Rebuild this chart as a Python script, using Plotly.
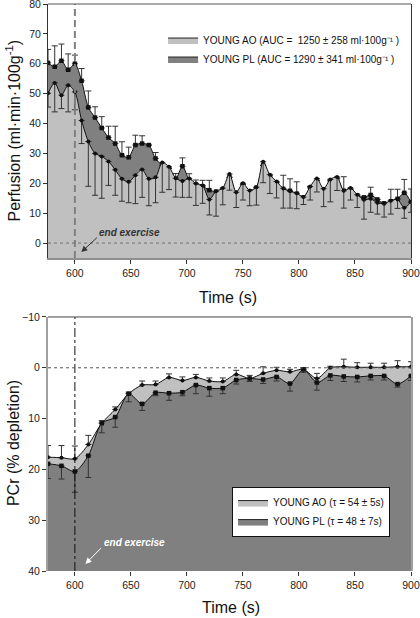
import plotly.graph_objects as go

# ---------------- data: perfusion (top panel) ----------------
time_perf = [576, 582, 588, 594, 600, 606, 612, 618, 624, 630, 636, 642, 648, 654, 660,
             666, 672, 678, 684, 690, 696, 702, 708, 714, 720, 726, 732, 738, 744, 750,
             756, 762, 768, 774, 780, 786, 792, 798, 804, 810, 816, 822, 828, 834, 840,
             846, 852, 858, 864, 870, 876, 882, 888, 894, 900]
perf_ao = [50.1, 53.6, 49.5, 52.8, 50.6, 41.0, 34.0, 30.0, 29.0, 27.3, 24.5, 21.5, 20.5, 22.7, 24.6,
           21.5, 22.0, 27.0, 25.5, 21.7, 20.8, 21.6, 19.9, 19.3, 14.6, 17.3, 18.4, 23.1, 17.0, 20.0,
           17.6, 18.7, 27.2, 22.9, 20.6, 18.3, 17.3, 16.7, 15.4, 18.9, 21.6, 18.2, 21.3, 22.1, 17.5,
           18.4, 16.2, 14.5, 14.8, 13.5, 13.2, 14.2, 14.6, 11.8, 13.8]
perf_ao_err = [4.6, 9.7, 4.5, 8.9, 6.0, 7.7, 15.0, 14.0, 14.0, 8.0, 8.5, 7.5, 7.0, 9.5, 9.3,
               9.0, 8.5, 10.0, 7.6, 6.3, 5.5, 6.3, 7.3, 6.0, 5.2, 8.3, 5.6, 5.4, 5.1, 5.6,
               5.1, 6.0, 7.0, 6.3, 5.5, 6.6, 5.6, 5.2, 2.5, 4.5, 4.5, 6.0, 7.5, 4.5, 5.8,
               4.0, 4.3, 6.5, 4.5, 3.8, 4.5, 4.5, 3.0, 3.5, 3.5]
perf_pl = [60.3, 59.0, 61.0, 58.0, 60.0, 54.3, 45.4, 42.0, 38.5, 35.3, 33.3, 29.4, 28.7, 32.8, 33.3,
           32.8, 28.3, 26.0, 25.0, 21.5, 25.7, 21.2, 19.6, 19.0, 17.7, 17.2, 18.0, 22.0, 16.8, 19.6,
           17.3, 18.5, 26.0, 22.5, 20.2, 18.1, 17.5, 16.5, 15.3, 18.5, 21.0, 18.0, 20.8, 21.6, 17.5,
           18.0, 16.0, 15.3, 16.1, 14.6, 13.3, 14.0, 14.8, 16.8, 13.6]
perf_pl_err = [4.5, 7.0, 5.6, 5.3, 2.9, 4.1, 5.5, 3.6, 3.8, 3.8, 5.8, 4.5, 3.4, 3.3, 2.6,
               0.0, 2.0, 0.0, 0.0, 1.8, 2.8, 2.0, 1.5, 2.0, 3.3, 0.0, 0.0, 0.0, 0.0, 0.0,
               0.0, 0.0, 0.0, 0.0, 0.0, 4.6, 4.0, 4.0, 0.0, 0.5, 0.0, 0.0, 0.0, 0.0, 4.7,
               0.0, 0.0, 0.0, 2.6, 0.0, 0.0, 4.0, 3.2, 4.5, 4.5]

# ---------------- data: PCr depletion (bottom panel) ----------------
time_pcr = [576, 588, 600, 612, 624, 636, 648, 660, 672, 684, 696, 708, 720, 732,
            744, 756, 768, 780, 792, 804, 816, 828, 840, 852, 864, 876, 888, 900]
pcr_ao = [17.6, 17.7, 17.9, 15.1, 10.9, 8.2, 5.1, 3.4, 3.3, 1.9, 2.5, 1.9, 2.6, 2.7,
          1.3, 2.1, 1.1, 0.5, 0.8, 0.3, 2.1, 0.0, -0.2, -0.1, -0.1, -0.1, -0.2, -0.2]
pcr_ao_err = [2.3, 2.4, 2.5, 1.8, 0.5, 0.5, 0.3, 0.8, 0.7, 0.7, 0.7, 0.6, 0.6, 0.7,
              0.8, 0.6, 1.3, 0.6, 0.5, 0.3, 1.0, 0.3, 1.5, 0.9, 0.8, 0.8, 1.2, 1.0]
pcr_pl = [18.9, 19.3, 20.4, 17.3, 10.9, 9.7, 5.1, 7.1, 4.9, 5.0, 4.8, 3.4, 4.0, 4.0,
          2.4, 2.1, 2.3, 1.8, 3.1, 0.3, 2.9, 1.5, 1.7, 1.8, 1.6, 1.6, 3.2, 1.6]
pcr_pl_err = [2.9, 2.6, 4.1, 4.3, 1.9, 2.0, 1.6, 1.3, 0.6, 1.4, 0.7, 1.7, 1.6, 1.1,
              0.8, 0.6, 0.8, 0.8, 1.5, 0.6, 1.5, 1.0, 1.0, 1.0, 0.8, 0.8, 0.6, 0.9]

x_ticks = [600, 650, 700, 750, 800, 850, 900]
perf_ticks = [0, 10, 20, 30, 40, 50, 60, 70, 80]
pcr_ticks = [-10, 0, 10, 20, 30, 40]

legend_perf = ["YOUNG AO (AUC =  1250 ± 258 ml·100g⁻¹ )",
               "YOUNG PL (AUC = 1290 ± 341 ml·100g⁻¹ )"]
legend_pcr = ["YOUNG AO (τ = 54 ± 5s)", "YOUNG PL (τ = 48 ± 7s)"]

LIGHT = "#c0c0c0"
DARK = "#808080"
FONT = "Liberation Sans, Arial, sans-serif"

fig = go.Figure()


def baseline(xs, level, xa, ya):
    return go.Scatter(x=[xs[0], xs[-1]], y=[level, level], mode="lines",
                      line=dict(width=0), hoverinfo="skip", showlegend=False,
                      xaxis=xa, yaxis=ya)


def series(xs, ys, plus, minus, fillc, symbol, size, xa, ya):
    return go.Scatter(
        x=xs, y=ys, mode="lines+markers", xaxis=xa, yaxis=ya, showlegend=False,
        line=dict(color="#111", width=1, shape="spline", smoothing=0.8),
        fill="tonexty", fillcolor=fillc,
        marker=dict(symbol=symbol, size=size, color="#111"),
        error_y=dict(type="data", symmetric=False, array=plus, arrayminus=minus,
                     color="#333", thickness=1, width=3),
    )


zeros_p = [0] * len(time_perf)
zeros_c = [0] * len(time_pcr)

# top panel: PL (dark) first, then AO (light) on top
fig.add_trace(baseline(time_perf, -10, "x", "y"))
fig.add_trace(series(time_perf, perf_pl, perf_pl_err, zeros_p, DARK, "square", 4.5, "x", "y"))
fig.add_trace(baseline(time_perf, -10, "x", "y"))
fig.add_trace(series(time_perf, perf_ao, zeros_p, perf_ao_err, LIGHT, "circle", 4, "x", "y"))

# bottom panel: AO (light) first, then PL (dark) on top
fig.add_trace(baseline(time_pcr, 45, "x2", "y2"))
fig.add_trace(series(time_pcr, pcr_ao, zeros_c, pcr_ao_err, LIGHT, "circle", 4, "x2", "y2"))
fig.add_trace(baseline(time_pcr, 45, "x2", "y2"))
fig.add_trace(series(time_pcr, pcr_pl, pcr_pl_err, zeros_c, DARK, "square", 4.5, "x2", "y2"))

# legend entries
for name, col in zip(legend_perf, [LIGHT, DARK]):
    fig.add_trace(go.Scatter(x=[None], y=[None], mode="lines", name=name, fill="toself",
                             fillcolor=col, line=dict(color="#222", width=1),
                             legend="legend", xaxis="x", yaxis="y"))
for name, col in zip(legend_pcr, [LIGHT, DARK]):
    fig.add_trace(go.Scatter(x=[None], y=[None], mode="lines", name=name, fill="toself",
                             fillcolor=col, line=dict(color="#222", width=1),
                             legend="legend2", xaxis="x2", yaxis="y2"))

axis_common = dict(showgrid=False, zeroline=False, ticks="outside", ticklen=4,
                   tickcolor="#333", automargin=False, ticklabeloverflow="allow",
                   tickfont=dict(size=10.5, color="#222", family=FONT))

fig.update_layout(
    width=420, height=618,
    margin=dict(l=48, r=9, t=4, b=47, autoexpand=False),
    paper_bgcolor="white", plot_bgcolor="white",
    font=dict(family=FONT, color="#111"),
    xaxis=dict(domain=[0, 1], anchor="y", range=[576, 900], tickvals=x_ticks,
               showline=True, linecolor="#909090", linewidth=2, **axis_common),
    yaxis=dict(domain=[0.552, 1], anchor="x", range=[-5, 80], tickvals=perf_ticks,
               showline=True, linecolor="#333", linewidth=1, mirror=True, **axis_common),
    xaxis2=dict(domain=[0, 1], anchor="y2", range=[576, 900], tickvals=x_ticks,
                showline=False, **axis_common),
    yaxis2=dict(domain=[0, 0.448], anchor="x2", range=[40, -10], tickvals=pcr_ticks,
                showline=True, linecolor="#a0a0a0", linewidth=2, mirror=True, **axis_common),
    legend=dict(x=0.317, y=0.962, xanchor="left", yanchor="top", traceorder="normal",
                bgcolor="rgba(0,0,0,0)", borderwidth=0, itemwidth=30,
                font=dict(size=10, family=FONT, color="#111"), tracegroupgap=0),
    legend2=dict(x=0.507, y=0.148, xanchor="left", yanchor="top", traceorder="normal",
                 bgcolor="white", bordercolor="#111", borderwidth=1, itemwidth=30,
                 entrywidth=112, entrywidthmode="pixels",
                 font=dict(size=10, family=FONT, color="#111"), tracegroupgap=0),
    showlegend=True,
)

fig.update_layout(shapes=[
    # top panel
    dict(type="line", xref="x", yref="y domain", x0=600, x1=600, y0=0, y1=1,
         line=dict(color="#808080", width=2, dash="7px,4px")),
    dict(type="line", xref="x domain", yref="y", x0=0, x1=1, y0=0, y1=0,
         line=dict(color="#707070", width=1, dash="dot")),
    dict(type="line", xref="x domain", yref="y domain", x0=0, x1=1, y0=1, y1=1,
         line=dict(color="#555", width=1)),
    # bottom panel
    dict(type="line", xref="x2", yref="y2 domain", x0=600, x1=600, y0=0, y1=1,
         line=dict(color="#111", width=1, dash="dashdot")),
    dict(type="line", xref="x2 domain", yref="y2", x0=0, x1=1, y0=0, y1=0,
         line=dict(color="#555", width=1, dash="dot")),
    dict(type="line", xref="x2 domain", yref="y2 domain", x0=0, x1=1, y0=1, y1=1,
         line=dict(color="#444", width=1)),
])

title_font = dict(size=16, family=FONT, color="#111")
ann = [
    # axis titles
    dict(text="Time (s)", xref="paper", yref="paper", x=0.497, y=0.483, showarrow=False,
         xanchor="center", yanchor="middle", font=title_font),
    dict(text="Time (s)", xref="paper", yref="paper", x=0.504, y=-0.0635, showarrow=False,
         xanchor="center", yanchor="middle", font=title_font),
    dict(text="Perfusion (ml·min·100g<sup>-1</sup>)", xref="paper", yref="paper",
         x=-0.095, y=0.776, showarrow=False, textangle=-90,
         xanchor="center", yanchor="middle", font=title_font),
    dict(text="PCr (% depletion)", xref="paper", yref="paper",
         x=-0.093, y=0.226, showarrow=False, textangle=-90,
         xanchor="center", yanchor="middle", font=title_font),
    # end exercise labels
    dict(text="<b><i>end exercise</i></b>", xref="x", yref="y", x=649, y=3.7,
         showarrow=False, font=dict(size=10, family=FONT, color="#333")),
    dict(text="", xref="x", yref="y", x=605.8, y=-3.0, axref="x", ayref="y",
         ax=621, ay=2.3, showarrow=True, arrowhead=2, arrowsize=1.2, arrowwidth=1,
         arrowcolor="#333"),
    dict(text="<b><i>end exercise</i></b>", xref="x2", yref="y2", x=653, y=34.4,
         showarrow=False, font=dict(size=10, family=FONT, color="white")),
    dict(text="", xref="x2", yref="y2", x=609.4, y=38.6, axref="x2", ayref="y2",
         ax=624.6, ay=35.2, showarrow=True, arrowhead=2, arrowsize=1.2, arrowwidth=1,
         arrowcolor="white"),
]
fig.update_layout(annotations=ann)

fig.write_html("out.html", config={"displayModeBar": False},
               post_script="document.body.style.margin='0';")
